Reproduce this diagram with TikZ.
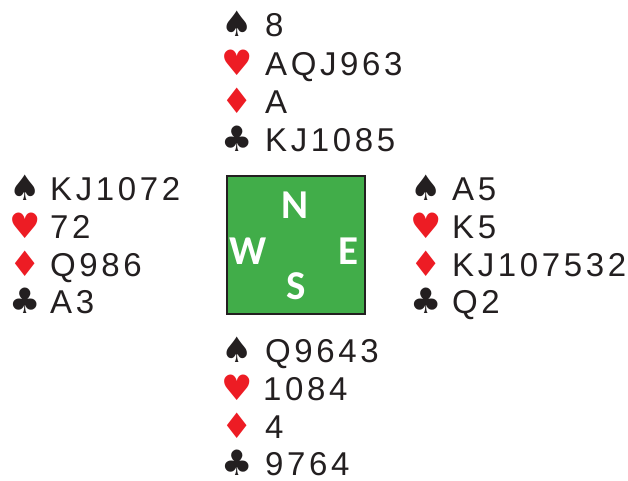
\documentclass[tikz,border=0pt]{standalone}
\usepackage{fontspec}
\setmainfont{Liberation Sans}
\newfontfamily\handfont[LetterSpace=11]{Liberation Sans}
\newfontfamily\suitfont{DejaVu Sans}
\newfontfamily\dirfont{Carlito}
\definecolor{suitred}{HTML}{ED1C24}
\definecolor{tablegreen}{HTML}{41AD49}
\definecolor{ink}{HTML}{231F20}
\newcommand\handline[7]{%
  \node[suitsym,text=#6] (#1s) at (#2,#4) {#5};
  \node[cards] (#1t) at (#3,#4) {#7};}
\begin{document}
\begin{tikzpicture}[x=1pt,y=-1pt,
  suitsym/.style={anchor=base, inner sep=0pt, font=\suitfont\fontsize{35}{35}\selectfont},
  cards/.style={anchor=base west, inner sep=0pt, font=\handfont\fontsize{33}{33}\selectfont, text=ink},
  dir/.style={inner sep=0pt, text=white, font=\dirfont\bfseries\fontsize{41}{41}\selectfont}]
\useasboundingbox (0,0) rectangle (628,481);
% table
\node[draw=ink, line width=2pt, fill=tablegreen, minimum width=138pt, minimum height=138pt, inner sep=0pt] (table) at (295.5,245) {};
\node[dir] (dN) at (295,205) {N};
\node[dir] (dW) at (248,251) {W};
\node[dir] (dE) at (348.5,251) {E};
\node[dir] (dS) at (296,286) {S};
% North
\handline{n1}{237}{265}{37}{♠}{ink}{8}
\handline{n2}{237}{265}{75.3}{♥}{suitred}{AQJ963}
\handline{n3}{237}{265}{113.6}{♦}{suitred}{A}
\handline{n4}{237}{265}{152}{♣}{ink}{KJ1085}
% West
\handline{w1}{25}{50}{200}{♠}{ink}{KJ1072}
\handline{w2}{25}{50}{238}{♥}{suitred}{72}
\handline{w3}{25}{50}{276}{♦}{suitred}{Q986}
\handline{w4}{25}{50}{313}{♣}{ink}{A3}
% East
\handline{e1}{426}{452}{200}{♠}{ink}{A5}
\handline{e2}{426}{452}{238}{♥}{suitred}{K5}
\handline{e3}{426}{452}{276}{♦}{suitred}{KJ107532}
\handline{e4}{426}{452}{313}{♣}{ink}{Q2}
% South
\handline{s1}{237}{265}{362}{♠}{ink}{Q9643}
\handline{s2}{237}{263}{400}{♥}{suitred}{1084}
\handline{s3}{237}{265}{438}{♦}{suitred}{4}
\handline{s4}{237}{265}{475}{♣}{ink}{9764}
\end{tikzpicture}
\end{document}
